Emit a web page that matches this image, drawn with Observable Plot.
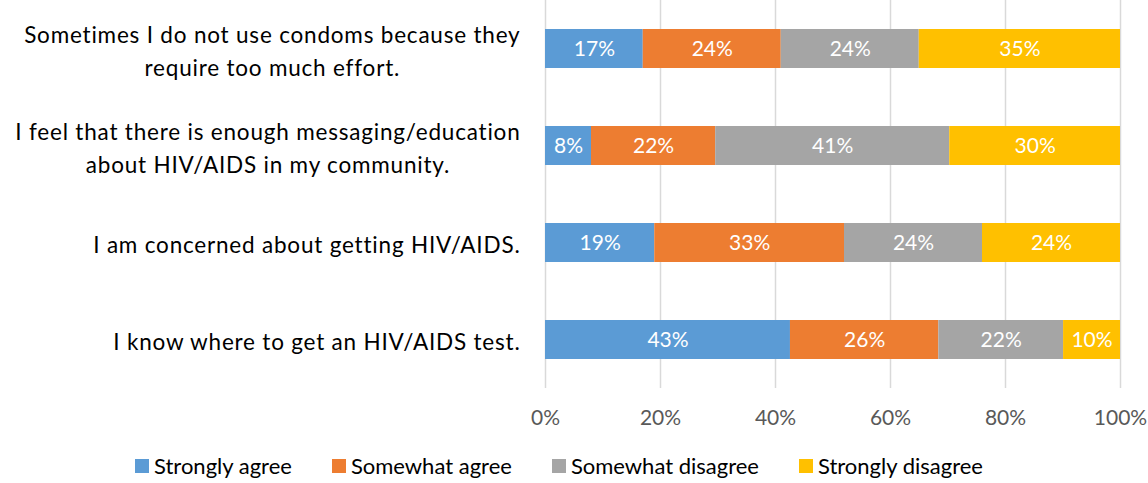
<!DOCTYPE html>
<html>
<head>
<meta charset="utf-8">
<script src="https://cdn.jsdelivr.net/npm/d3@7"></script>
<script src="https://cdn.jsdelivr.net/npm/@observablehq/plot@0.6"></script>
<style>
  html, body { margin: 0; padding: 0; background: #fff; }
  body { width: 1148px; height: 483px; overflow: hidden; font-family: Lato, "Open Sans", sans-serif; }
  #legend { display: flex; justify-content: center; align-items: center; padding-right: 30px; margin-top: 12px; font-size: 22px; color: #000; }
  #legend .item { display: flex; align-items: center; margin: 0 20px; }
  #legend .sw { width: 14px; height: 14px; margin-right: 5px; }
  .ylab text { letter-spacing: 0.8px; }
</style>
</head>
<body>
<div id="chart"></div>
<div id="legend"></div>
<script>
const questions = [
  "Sometimes I do not use condoms because they\nrequire too much effort.",
  "I feel that there is enough messaging/education\nabout HIV/AIDS in my community.",
  "I am concerned about getting HIV/AIDS.",
  "I know where to get an HIV/AIDS test."
];
const categories = ["Strongly agree", "Somewhat agree", "Somewhat disagree", "Strongly disagree"];
const colors = ["#5B9BD5", "#ED7D31", "#A5A5A5", "#FFC000"];
const stronglyAgree    = [17, 8,    19, 42.6];
const somewhatAgree    = [24, 21.6, 33, 25.8];
const somewhatDisagree = [24, 40.7, 24, 21.7];
const stronglyDisagree = [35, 29.7, 24, 9.9];
const xTicks = [0, 20, 40, 60, 80, 100];

const series = [stronglyAgree, somewhatAgree, somewhatDisagree, stronglyDisagree];
const data = questions.flatMap((q, i) => categories.map((c, j) => ({question: q, category: c, value: series[j][i]})));

const chart = Plot.plot({
  width: 1148,
  height: 440,
  marginLeft: 545,
  marginRight: 28,
  marginTop: 0,
  marginBottom: 52,
  style: {fontFamily: "Lato, 'Open Sans', sans-serif", background: "#fff"},
  x: {domain: [0, 100], axis: null},
  y: {domain: questions, paddingInner: 0.6, paddingOuter: 0.3, axis: null},
  color: {domain: categories, range: colors},
  marks: [
    Plot.gridX(xTicks, {stroke: "#d9d9d9", strokeOpacity: 1, strokeWidth: 1.5}),
    Plot.barX(data, Plot.stackX({x: "value", y: "question", fill: "category", z: "category", order: categories})),
    Plot.text(data, Plot.stackX({x: "value", y: "question", z: "category", order: categories,
      text: d => Math.round(d.value) + "%", fill: "white", fontSize: 21})),
    Plot.axisX(xTicks, {tickSize: 0, tickPadding: 22, fontSize: 21, fill: "#595959", tickFormat: d => d + "%", label: null}),
    Plot.axisY({tickSize: 0, tickPadding: 25, fontSize: 22.5, fill: "#000", lineHeight: 1.45, label: null, className: "ylab"})
  ]
});
document.getElementById("chart").appendChild(chart);

// Center multi-line labels within their block (right edge fixed)
chart.querySelectorAll("g[aria-label='y-axis tick label'] text").forEach(t => {
  const w = t.getBBox().width;
  t.setAttribute("text-anchor", "middle");
  const tr = t.getAttribute("transform") || "";
  t.setAttribute("transform", tr + ` translate(${-w / 2},0)`);
});

const legend = document.getElementById("legend");
categories.forEach((c, i) => {
  const item = document.createElement("div");
  item.className = "item";
  const sw = document.createElement("span");
  sw.className = "sw";
  sw.style.background = colors[i];
  const lab = document.createElement("span");
  lab.textContent = c;
  item.appendChild(sw);
  item.appendChild(lab);
  legend.appendChild(item);
});
</script>
</body>
</html>
